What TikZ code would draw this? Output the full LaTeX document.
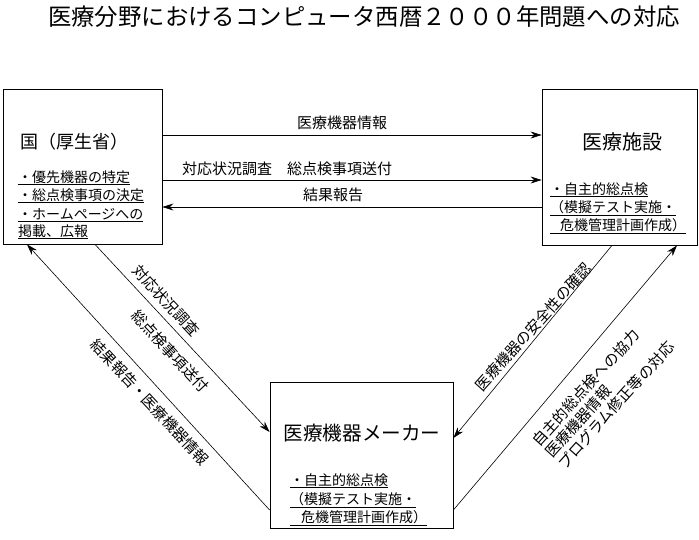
\documentclass[tikz,border=0pt]{standalone}
\usepackage{fontspec}
\setmainfont{Noto Sans CJK JP}
\usetikzlibrary{arrows.meta}
\begin{document}
\begin{tikzpicture}[x=1pt,y=-1pt,
  box/.style={draw,line width=0.8pt,inner sep=0pt},
  conn/.style={line width=0.6pt},
  arr/.style={conn,-{Stealth[length=11pt,width=7pt]}},
  lbl/.style={inner sep=0pt,font=\fontsize{15}{15}\selectfont},
  item/.style={inner sep=0pt,anchor=base west,font=\fontsize{14}{14}\selectfont},
  ttl/.style={inner sep=0pt,font=\fontsize{18}{18}\selectfont}]
\useasboundingbox (0,0) rectangle (699,539);
\fill[white] (0,0) rectangle (699,539);
% title
\node[inner sep=0pt,font=\fontsize{23.4}{24}\selectfont] (title) at (364,17) {医療分野におけるコンピュータ西暦２０００年問題への対応};
% boxes
\node[box,minimum width=159pt,minimum height=155pt] (A) at (82.5,166.5) {};
\node[box,minimum width=155pt,minimum height=156pt] (B) at (619.5,167) {};
\node[box,minimum width=183pt,minimum height=146pt] (C) at (361.5,455) {};
% box titles
\node[ttl] (At) at (74,142) {国（厚生省）};
\node[ttl,font=\fontsize{20}{20}\selectfont] (Bt) at (622,142) {医療施設};
\node[ttl,font=\fontsize{19.6}{20}\selectfont] (Ct) at (362,433) {医療機器メーカー};
% items in A
\node[item] (a1) at (18,182) {\underline{・優先機器の特定}};
\node[item] (a2) at (18,200) {\underline{・総点検事項の決定}};
\node[item] (a3) at (18,219) {\underline{・ホームページへの}};
\node[item] (a4) at (18,236) {\underline{掲載、広報}};
% items in B
\node[item] (b1) at (550,194) {\underline{・自主的総点検}};
\node[item] (b2) at (550,212) {\underline{（模擬テスト実施・}};
\node[item] (b3) at (550,230) {\underline{\hspace{10pt}危機管理計画作成）}};
% items in C
\node[item] (c1) at (290,485) {\underline{・自主的総点検}};
\node[item] (c2) at (290,504) {\underline{（模擬テスト実施・}};
\node[item] (c3) at (290,522) {\underline{\hspace{11pt}危機管理計画作成）}};
% horizontal connectors
\draw[arr] (A.east |- 0,135) -- (B.west |- 0,135);
\draw[arr] (A.east |- 0,180) -- (B.west |- 0,180);
\draw[arr] (B.west |- 0,207) -- (A.east |- 0,207);
\node[lbl] (h1) at (342,123) {医療機器情報};
\node[lbl] (h2) at (287,169) {対応状況調査\hspace{15pt}総点検事項送付};
\node[lbl] (h3) at (333,195) {結果報告};
% diagonal connectors
\draw[arr] (95,0 |- A.south) -- (C.west |- 0,432);
\draw[arr] (C.west |- 0,510) -- (27,0 |- A.south);
\draw[arr] (612,0 |- B.south) -- (C.east |- 0,438);
\draw[arr] (C.east |- 0,510) -- (677,0 |- B.south);
% diagonal labels
\node[lbl,rotate=-47] (d1) at (166,301) {対応状況調査};
\node[lbl,rotate=-47] (d2) at (170,351) {総点検事項送付};
\node[lbl,rotate=-47] (d3) at (150,402) {結果報告・医療機器情報};
\node[lbl,rotate=48] (e1) at (533,327) {医療機器の安全性の確認};
\node[lbl,rotate=48,anchor=west,align=left,font=\fontsize{15}{17}\selectfont] (e2) at (548,455)
  {自主的総点検への協力\\医療機器情報\\プログラム修正等の対応};
\end{tikzpicture}
\end{document}
